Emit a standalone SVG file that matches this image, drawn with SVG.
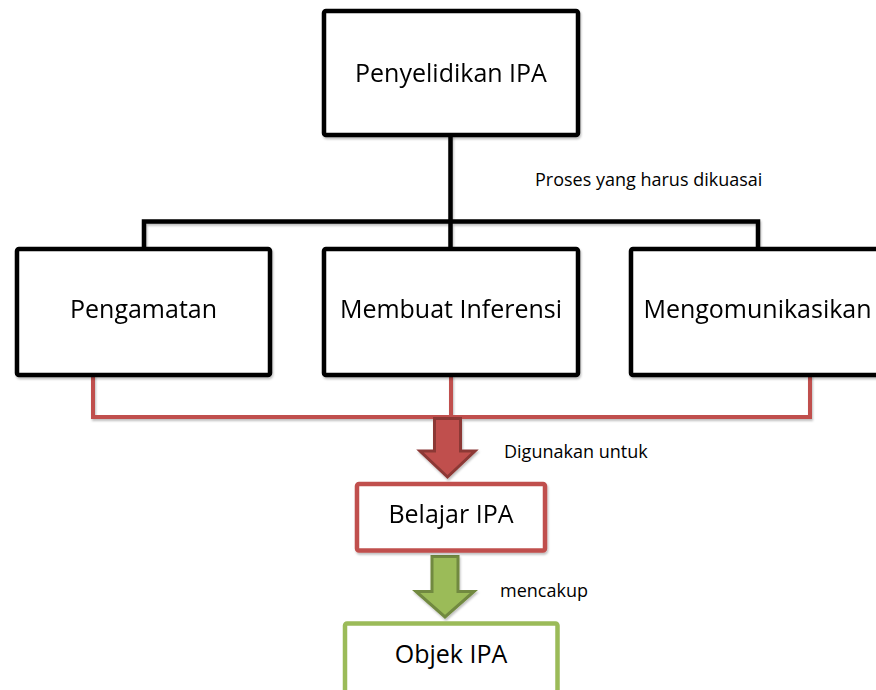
<svg xmlns="http://www.w3.org/2000/svg" width="876" height="690" viewBox="0 0 876 690">
<defs>
<filter id="sh" x="-10%" y="-10%" width="130%" height="130%">
<feDropShadow dx="1" dy="2" stdDeviation="1" flood-color="#000" flood-opacity="0.25"/>
</filter>
<style>
.bk{fill:#fff;stroke:#000;stroke-width:4.5}
.rd{fill:#fff;stroke:#C0504D;stroke-width:4.5}
.gr{fill:#fff;stroke:#9BBB59;stroke-width:4.5}
.t{font-family:"Open Sans","Noto Sans",sans-serif;font-size:25px;fill:#000;text-anchor:middle}
.s{font-family:"Open Sans","Noto Sans",sans-serif;font-size:18px;fill:#000}
.lk{fill:none;stroke:#000;stroke-width:4.5}
.lr{fill:none;stroke:#C0504D;stroke-width:4}
</style>
</defs>
<rect width="876" height="690" fill="#fff"/>
<g id="connectors" filter="url(#sh)">
<path class="lk" d="M450.5,135 V249 M144,249 V221.5 H758 V249"/>
<path class="lr" d="M93,375 V417 H810 V375 M451,375 V417"/>
<polygon points="434.5,418.5 460.5,418.5 460.5,451 475,451 447.5,477 420,451 434.5,451" fill="#C0504D" stroke="#8C3836" stroke-width="3" stroke-linejoin="miter"/>
<polygon points="432,556.5 458,556.5 458,591.5 474,591.5 445,617 416,591.5 432,591.5" fill="#9BBB59" stroke="#71893F" stroke-width="3"/>
</g>
<g id="penyelidikan" filter="url(#sh)">
<rect class="bk" x="324" y="11" width="254" height="124" rx="2"/>
<text class="t" x="451" y="82">Penyelidikan IPA</text>
</g>
<text class="s" x="535" y="186">Proses yang harus dikuasai</text>
<g id="pengamatan" filter="url(#sh)">
<rect class="bk" x="17" y="249" width="253" height="126" rx="2"/>
<text class="t" x="143.5" y="318">Pengamatan</text>
</g>
<g id="inferensi" filter="url(#sh)">
<rect class="bk" x="324" y="249" width="254" height="126" rx="2"/>
<text class="t" x="451" y="318">Membuat Inferensi</text>
</g>
<g id="mengomunikasikan" filter="url(#sh)">
<rect class="bk" x="631" y="249" width="254" height="126" rx="2"/>
<text class="t" x="757.5" y="318">Mengomunikasikan</text>
</g>
<text class="s" x="504" y="458">Digunakan untuk</text>
<g id="belajar" filter="url(#sh)">
<rect class="rd" x="357" y="484" width="188" height="66.5" rx="2"/>
<text class="t" x="451" y="523">Belajar IPA</text>
</g>
<text class="s" x="500" y="597">mencakup</text>
<g id="objek">
<rect class="gr" x="345" y="623.5" width="212.5" height="90" rx="2"/>
<text class="t" x="451" y="663">Objek IPA</text>
</g>
</svg>
